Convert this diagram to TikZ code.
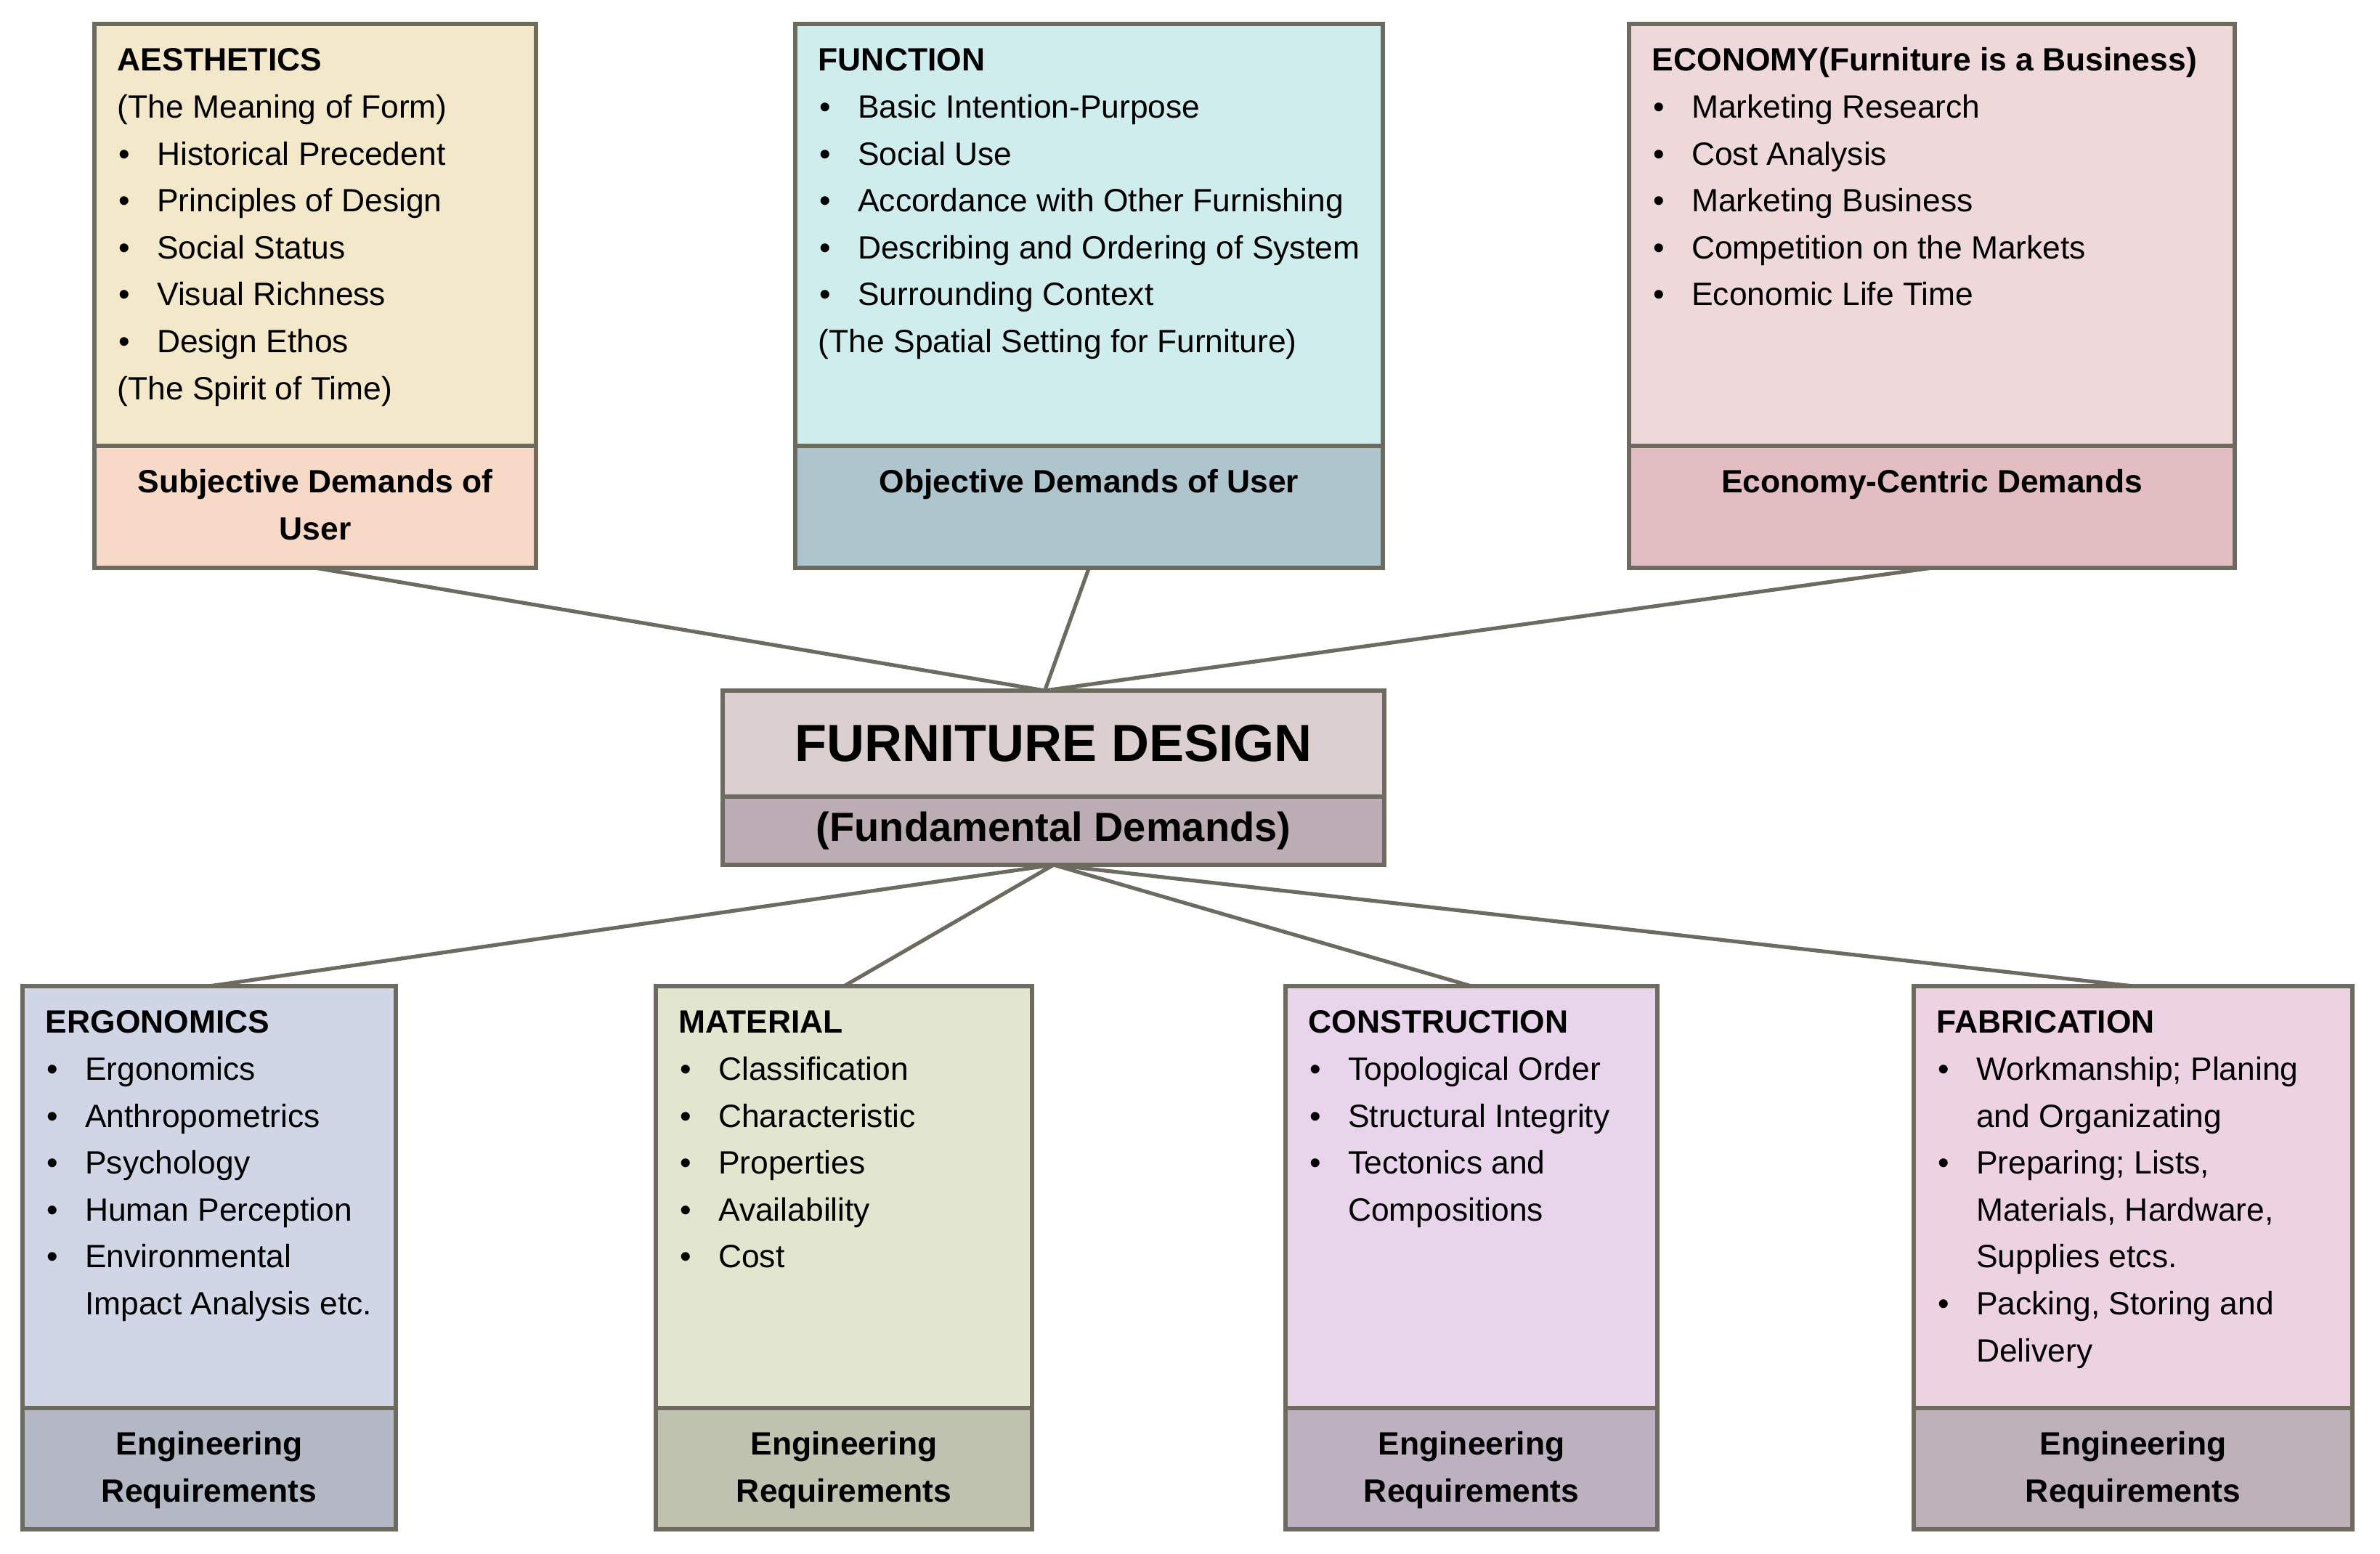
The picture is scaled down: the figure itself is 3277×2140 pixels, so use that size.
\documentclass[tikz,border=0pt]{standalone}
\usepackage{fontspec}
\setmainfont{Liberation Sans}
\definecolor{bordc}{HTML}{6D6A60}
\definecolor{aesF}{HTML}{F3E8C9}
\definecolor{aesL}{HTML}{F6D9C7}
\definecolor{funF}{HTML}{CFEDEC}
\definecolor{funL}{HTML}{AFC5CD}
\definecolor{ecoF}{HTML}{EED8DA}
\definecolor{ecoL}{HTML}{E2BEC2}
\definecolor{fdT}{HTML}{DBCFD0}
\definecolor{fdB}{HTML}{BBADB3}
\definecolor{ergF}{HTML}{D0D6E5}
\definecolor{ergL}{HTML}{B4B7C4}
\definecolor{matF}{HTML}{E3E6CF}
\definecolor{matL}{HTML}{BFC2AE}
\definecolor{conF}{HTML}{E8D5EC}
\definecolor{conL}{HTML}{BDB0C1}
\definecolor{fabF}{HTML}{EDD3E2}
\definecolor{fabL}{HTML}{BEB0B8}
\newcommand\myitem{\makebox[13.6pt][l]{\hspace{0.5pt}•}}
\newcommand\mycont{\hspace*{13.6pt}}
\begin{document}
\begin{tikzpicture}[x=0.25pt,y=-0.25pt,
  part/.style={draw=bordc, line width=1.5pt, inner sep=0pt, outer sep=0pt},
  conn/.style={draw=bordc, line width=1.3pt},
  body/.style={anchor=north west, inner sep=0pt, align=left, font=\fontsize{11.1}{16.15}\selectfont},
  lab/.style={anchor=north, inner sep=0pt, align=center, font=\fontsize{11.1}{16.15}\selectfont\bfseries}]
\useasboundingbox (0,0) rectangle (3277,2140);

% ---------- top row ----------
\node[part, fill=aesF, anchor=north west, minimum width=152pt, minimum height=145.25pt] (aes) at (130,33) {};
\node[part, fill=aesL, anchor=north, minimum width=152pt, minimum height=42pt] (aesL) at (aes.south) {};
\node[part, fill=funF, anchor=north west, minimum width=202.2pt, minimum height=145.25pt] (fun) at (1095,33) {};
\node[part, fill=funL, anchor=north, minimum width=202.2pt, minimum height=42pt] (funL) at (fun.south) {};
\node[part, fill=ecoF, anchor=north west, minimum width=208.5pt, minimum height=145.25pt] (eco) at (2243,33) {};
\node[part, fill=ecoL, anchor=north, minimum width=208.5pt, minimum height=42pt] (ecoL) at (eco.south) {};

\node[body] (aesTxt) at ([shift={(7.75pt,-4.7pt)}]aes.north west) {\strut\textbf{AESTHETICS}\\
(The Meaning of Form)\\
\myitem Historical Precedent\\
\myitem Principles of Design\\
\myitem Social Status\\
\myitem Visual Richness\\
\myitem Design Ethos\\
(The Spirit of Time)};
\node[lab] (aesLab) at ([yshift=-4.7pt]aesL.north) {\strut Subjective Demands of\\User};

\node[body] (funTxt) at ([shift={(7.75pt,-4.7pt)}]fun.north west) {\strut\textbf{FUNCTION}\\
\myitem Basic Intention-Purpose\\
\myitem Social Use\\
\myitem Accordance with Other Furnishing\\
\myitem Describing and Ordering of System\\
\myitem Surrounding Context\\
(The Spatial Setting for Furniture)};
\node[lab] (funLab) at ([yshift=-4.7pt]funL.north) {\strut Objective Demands of User};

\node[body] (ecoTxt) at ([shift={(7.75pt,-4.7pt)}]eco.north west) {\strut\textbf{ECONOMY(Furniture is a Business)}\\
\myitem Marketing Research\\
\myitem Cost Analysis\\
\myitem Marketing Business\\
\myitem Competition on the Markets\\
\myitem Economic Life Time};
\node[lab] (ecoLab) at ([yshift=-4.7pt]ecoL.north) {\strut Economy-Centric Demands};

% ---------- centre ----------
\node[part, fill=fdT, anchor=north west, minimum width=227.8pt, minimum height=36.5pt,
      font=\fontsize{18}{20}\selectfont\bfseries] (fd) at (995,951) {FURNITURE DESIGN};
\node[part, fill=fdB, anchor=north, minimum width=227.8pt, minimum height=23.5pt,
      font=\fontsize{14}{16}\selectfont\bfseries] (fdB) at (fd.south) {(Fundamental Demands)};

% ---------- bottom row ----------
\node[part, fill=ergF, anchor=north west, minimum width=128.5pt, minimum height=145.25pt] (erg) at (31,1358) {};
\node[part, fill=ergL, anchor=north, minimum width=128.5pt, minimum height=41.8pt] (ergL) at (erg.south) {};
\node[part, fill=matF, anchor=north west, minimum width=129.5pt, minimum height=145.25pt] (mat) at (903,1358) {};
\node[part, fill=matL, anchor=north, minimum width=129.5pt, minimum height=41.8pt] (matL) at (mat.south) {};
\node[part, fill=conF, anchor=north west, minimum width=128pt, minimum height=145.25pt] (con) at (1770,1358) {};
\node[part, fill=conL, anchor=north, minimum width=128pt, minimum height=41.8pt] (conL) at (con.south) {};
\node[part, fill=fabF, anchor=north west, minimum width=151pt, minimum height=145.25pt] (fab) at (2635,1358) {};
\node[part, fill=fabL, anchor=north, minimum width=151pt, minimum height=41.8pt] (fabL) at (fab.south) {};

\node[body] (ergTxt) at ([shift={(7.75pt,-4.7pt)}]erg.north west) {\strut\textbf{ERGONOMICS}\\
\myitem Ergonomics\\
\myitem Anthropometrics\\
\myitem Psychology\\
\myitem Human Perception\\
\myitem Environmental\\
\mycont Impact Analysis etc.};
\node[lab] (ergLab) at ([yshift=-4.7pt]ergL.north) {\strut Engineering\\Requirements};

\node[body] (matTxt) at ([shift={(7.75pt,-4.7pt)}]mat.north west) {\strut\textbf{MATERIAL}\\
\myitem Classification\\
\myitem Characteristic\\
\myitem Properties\\
\myitem Availability\\
\myitem Cost};
\node[lab] (matLab) at ([yshift=-4.7pt]matL.north) {\strut Engineering\\Requirements};

\node[body] (conTxt) at ([shift={(7.75pt,-4.7pt)}]con.north west) {\strut\textbf{CONSTRUCTION}\\
\myitem Topological Order\\
\myitem Structural Integrity\\
\myitem Tectonics and\\
\mycont Compositions};
\node[lab] (conLab) at ([yshift=-4.7pt]conL.north) {\strut Engineering\\Requirements};

\node[body] (fabTxt) at ([shift={(7.75pt,-4.7pt)}]fab.north west) {\strut\textbf{FABRICATION}\\
\myitem Workmanship; Planing\\
\mycont and Organizating\\
\myitem Preparing; Lists,\\
\mycont Materials, Hardware,\\
\mycont Supplies etcs.\\
\myitem Packing, Storing and\\
\mycont Delivery};
\node[lab] (fabLab) at ([yshift=-4.7pt]fabL.north) {\strut Engineering\\Requirements};

% ---------- connectors ----------
\coordinate (hubT) at ([xshift=-3pt]fd.north);
\draw[conn] (aesL.south) -- (hubT);
\draw[conn] (funL.south) -- (hubT);
\draw[conn] (ecoL.south) -- (hubT);
\draw[conn] (fdB.south) -- (erg.north);
\draw[conn] (fdB.south) -- (mat.north);
\draw[conn] (fdB.south) -- (con.north);
\draw[conn] (fdB.south) -- (fab.north);
\end{tikzpicture}
\end{document}
